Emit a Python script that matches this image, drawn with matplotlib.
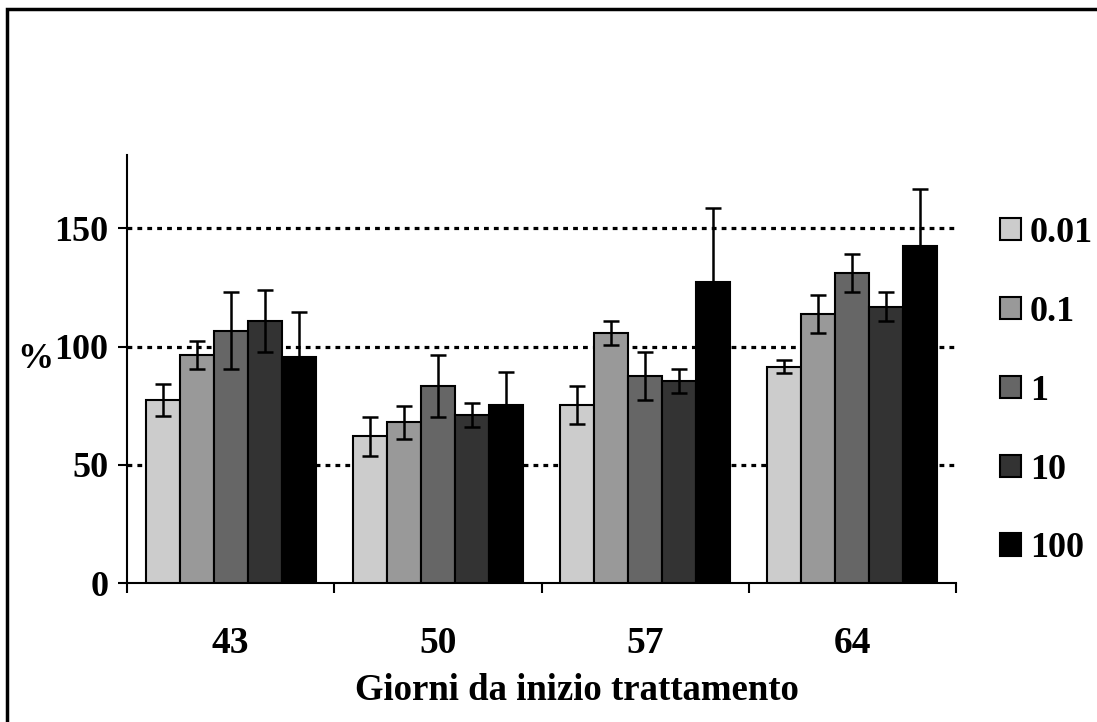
import numpy as np
import matplotlib
matplotlib.use("Agg")
from matplotlib import pyplot as plt
from matplotlib.patches import Rectangle

plt.rcParams["font.family"] = ["Liberation Serif", "DejaVu Serif"]
plt.rcParams["font.weight"] = "bold"

days = ["43", "50", "57", "64"]
doses = ["0.01", "0.1", "1", "10", "100"]
colors = ["#cccccc", "#999999", "#666666", "#333333", "#000000"]

values_001 = [77.4, 62.1, 75.3, 91.5]
values_01 = [96.4, 68.0, 105.7, 113.8]
values_1 = [106.7, 83.4, 87.4, 131.1]
values_10 = [110.8, 71.1, 85.3, 116.9]
values_100 = [95.7, 75.3, 127.2, 142.4]

errors_001 = [6.8, 8.2, 8.1, 2.8]
errors_01 = [6.0, 7.0, 5.0, 8.0]
errors_1 = [16.2, 13.0, 10.2, 8.0]
errors_10 = [13.1, 5.1, 5.1, 6.0]
errors_100 = [19.1, 14.1, 31.2, 24.2]

values = [values_001, values_01, values_1, values_10, values_100]
errors = [errors_001, errors_01, errors_1, errors_10, errors_100]

fig = plt.figure(figsize=(10.97, 7.22), dpi=100)
ax = fig.add_axes([127 / 1097, 1 - 583 / 722, (956 - 127) / 1097, (583 - 155) / 722])

x = np.arange(len(days))
bar_width = 0.164
for index in range(len(doses)):
    offset = (index - 2) * bar_width
    ax.bar(x + offset, values[index], width=bar_width, color=colors[index],
           edgecolor="black", linewidth=1.5, label=doses[index], zorder=3)
    ax.errorbar(x + offset, values[index], yerr=errors[index], fmt="none",
                ecolor="black", elinewidth=1.8, capsize=5.5, capthick=1.8, zorder=4)

# dotted grid lines like the original
for level in [50, 100, 150]:
    ax.axhline(level, color="black", linestyle=(0, (1.5, 1.6)), linewidth=2.3, zorder=1)

ax.set_xlim(-0.5, len(days) - 0.5)
ax.set_ylim(0, 181)
ax.set_yticks([0, 50, 100, 150])
ax.set_xticks(x)
ax.set_xticklabels(days)
ax.set_xticks(np.arange(len(days) + 1) - 0.5, minor=True)
ax.tick_params(axis="x", which="major", length=0, pad=31, labelsize=27)
ax.tick_params(axis="x", which="minor", length=7, width=1.5, direction="out")
ax.tick_params(axis="y", length=6.5, width=1.5, direction="out", pad=7, labelsize=26)

for side in ["top", "right"]:
    ax.spines[side].set_visible(False)
ax.spines["left"].set_linewidth(1.5)
ax.spines["bottom"].set_linewidth(1.5)

fig.text(35 / 1097, 1 - 360 / 722, "%", fontsize=26, fontweight="bold", ha="center", va="center")
fig.text(577 / 1097, 1 - 690 / 722, "Giorni da inizio trattamento", fontsize=26.5,
         fontweight="bold", ha="center", va="center")

legend = fig.legend(loc="upper left", bbox_to_anchor=(1000 / 1097, 1 - 217 / 722),
                    frameon=False, fontsize=26, handlelength=0.58, handleheight=0.58,
                    handletextpad=0.25, labelspacing=1.27, borderpad=0, borderaxespad=0)
for handle in legend.legend_handles:
    handle.set_linewidth(1.5)

fig.patches.append(Rectangle((7 / 1097, -0.1), 1.2, 1 - 9 / 722 + 0.1, transform=fig.transFigure,
                             fill=False, edgecolor="black", linewidth=2.5))

plt.savefig("out.png", dpi=100, facecolor="white")
